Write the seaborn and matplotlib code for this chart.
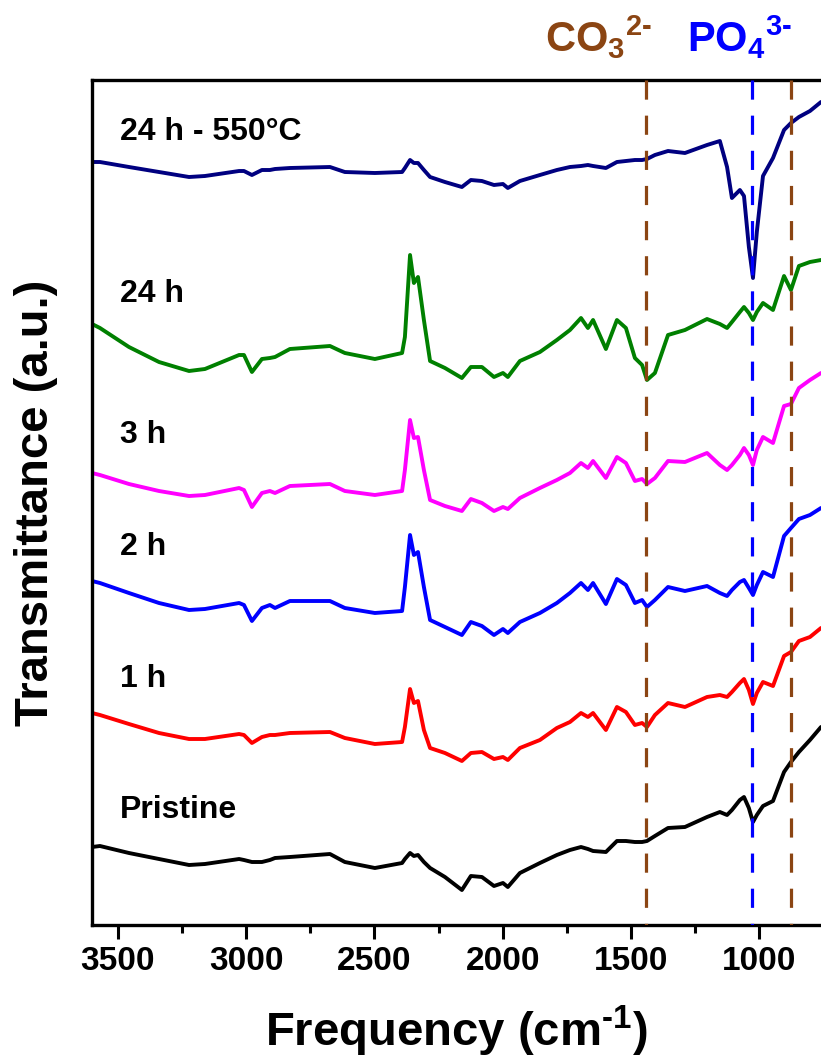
import numpy as np
import pandas as pd
import matplotlib
matplotlib.use("Agg")
import matplotlib.pyplot as plt
import seaborn as sns
from matplotlib.ticker import MultipleLocator

# ---------------- data ----------------
wavenumber = [3600, 3569, 3456, 3339, 3222, 3160, 3027, 3008, 2977, 2938,
              2907, 2887, 2829, 2673, 2615, 2498, 2392, 2381, 2361, 2346,
              2330, 2307, 2283, 2225, 2159, 2124, 2081, 2034, 1999, 1980,
              1933, 1855, 1789, 1738, 1695, 1668, 1648, 1598, 1555, 1520,
              1485, 1457, 1438, 1407, 1356, 1290, 1204, 1154, 1126, 1107,
              1076, 1060, 1041, 1025, 1010, 986, 947, 904, 877, 846, 803, 760]

t_24h_550 = [763, 763, 758, 753, 748, 749, 754, 754, 750, 755,
             755, 756, 757, 758, 753, 752, 753, 757, 765, 762,
             762, 755, 748, 743, 738, 745, 744, 740, 741, 737,
             744, 750, 755, 758, 759, 760, 759, 757, 763, 764,
             765, 765, 766, 770, 774, 772, 780, 784, 758, 727,
             735, 729, 678, 647, 693, 749, 767, 795, 802, 808, 814, 823]

t_24h = [601, 597, 578, 563, 554, 556, 570, 570, 553, 566,
         567, 568, 576, 579, 572, 566, 572, 588, 670, 642,
         648, 605, 564, 557, 547, 558, 558, 548, 552, 548,
         564, 573, 585, 595, 607, 597, 605, 576, 605, 597,
         567, 560, 545, 552, 590, 595, 606, 601, 597, 603,
         613, 618, 612, 605, 613, 622, 615, 649, 635, 659, 663, 665]

t_3h = [452, 450, 441, 434, 429, 430, 437, 435, 418, 432,
        434, 432, 439, 441, 434, 430, 434, 455, 505, 487,
        488, 455, 425, 419, 414, 426, 422, 414, 418, 416,
        427, 437, 445, 452, 462, 457, 464, 447, 468, 462,
        444, 446, 441, 447, 464, 463, 472, 460, 455, 460,
        470, 477, 470, 460, 475, 488, 482, 519, 521, 537, 545, 552]

t_2h = [344, 342, 332, 322, 315, 316, 322, 320, 304, 317,
        320, 317, 324, 324, 317, 312, 314, 338, 390, 370,
        373, 338, 305, 298, 290, 303, 299, 290, 296, 292,
        303, 312, 322, 332, 342, 335, 342, 321, 346, 340,
        322, 325, 318, 325, 338, 334, 339, 332, 329, 335,
        343, 345, 337, 330, 340, 353, 348, 389, 397, 406, 410, 417]

t_1h = [212, 210, 201, 192, 186, 186, 191, 190, 182, 188,
        190, 190, 192, 193, 187, 181, 183, 198, 236, 222,
        224, 195, 177, 172, 164, 172, 173, 166, 168, 165,
        177, 185, 197, 203, 212, 208, 212, 195, 218, 213,
        200, 202, 198, 210, 222, 218, 228, 230, 228, 233,
        242, 246, 235, 221, 232, 243, 239, 269, 273, 284, 288, 297]

t_pristine = [78, 79, 72, 66, 60, 61, 66, 65, 63, 63,
              65, 67, 68, 71, 63, 57, 62, 66, 72, 69,
              70, 63, 57, 48, 35, 49, 48, 39, 42, 38,
              52, 62, 70, 75, 78, 76, 74, 73, 84, 84,
              83, 83, 84, 89, 97, 98, 108, 113, 110, 115,
              125, 128, 117, 103, 110, 119, 124, 153, 163, 173, 185, 198]

sample_names = ["Pristine", "1 h", "2 h", "3 h", "24 h", "24 h - 550°C"]
sample_colors = ["#000000", "#FF0000", "#0000FF", "#FF00FF", "#008000", "#000080"]
label_y = [107, 238, 370, 482, 623, 785]          # baseline of curve labels (a.u.)
label_x = 3491

carbonate_bands = [1440, 875]
phosphate_bands = [1030]

# ---------------- style ----------------
sns.set_style("ticks")
plt.rcParams['font.family'] = ['Liberation Sans', 'DejaVu Sans']
plt.rcParams['font.weight'] = 'bold'
plt.rcParams['mathtext.fontset'] = 'custom'
plt.rcParams['mathtext.rm'] = 'Liberation Sans'
plt.rcParams['mathtext.it'] = 'Liberation Sans:italic'
plt.rcParams['mathtext.bf'] = 'Liberation Sans:bold'
for k in ['text.color', 'axes.labelcolor', 'xtick.color', 'ytick.color', 'axes.edgecolor']:
    plt.rcParams[k] = 'black'

series = [t_pristine, t_1h, t_2h, t_3h, t_24h, t_24h_550]
df = pd.DataFrame({
    "Frequency": np.tile(wavenumber, len(series)),
    "Transmittance": np.concatenate(series),
    "sample": np.repeat(sample_names, len(wavenumber)),
})

W, H = 821, 1063
fig = plt.figure(figsize=(W / 100, H / 100), dpi=100)
ax = fig.add_axes([92 / W, 1 - 925 / H, 1 - 92 / W, (925 - 80) / H])

sns.lineplot(data=df, x="Frequency", y="Transmittance", hue="sample",
             hue_order=sample_names, palette=dict(zip(sample_names, sample_colors)),
             sort=False, estimator=None, lw=2.8, legend=False, ax=ax)
for ln in ax.lines:
    ln.set_solid_joinstyle("round")
    ln.set_solid_capstyle("round")

for v in carbonate_bands:
    ax.axvline(v, ymin=1, ymax=0, color="#8B4513", lw=2.3, ls=(0, (6, 5)), zorder=4)
for v in phosphate_bands:
    ax.axvline(v, ymin=1, ymax=0, color="#0000FF", lw=2.3, ls=(0, (6, 5)), zorder=4)

for name, y in zip(sample_names, label_y):
    ax.text(label_x, y, name, fontsize=23, fontweight="bold", ha="left",
            va="baseline", color="black")

ax.set_xlim(3600, 760)
ax.set_ylim(0, 845)
ax.xaxis.set_major_locator(MultipleLocator(500))
ax.xaxis.set_minor_locator(MultipleLocator(250))
ax.set_yticks([])
ax.tick_params(axis="x", which="major", direction="out", length=10, width=2.2,
               labelsize=24, pad=5, colors="black")
ax.tick_params(axis="x", which="minor", direction="out", length=6, width=2.2,
               colors="black")
for s in ["left", "bottom", "top"]:
    ax.spines[s].set_linewidth(2.4)
    ax.spines[s].set_color("black")
ax.spines["right"].set_visible(False)

ax.set_xlabel("Frequency (cm$^{\u20101}$)", fontsize=34, fontweight="bold", color="black")
ax.set_ylabel("Transmittance (a.u.)", fontsize=34, fontweight="bold", color="black")
ax.xaxis.set_label_coords(0.5, -0.093)
ax.yaxis.set_label_coords(-0.047, 0.5)

fig.text(652 / W, 1 - 52 / H, "CO$_{3}$$^{2\u2010}$", color="#8B4513", fontsize=30,
         fontweight="bold", ha="right", va="baseline")
fig.text(687 / W, 1 - 52 / H, "PO$_{4}$$^{3\u2010}$", color="#0000FF", fontsize=30,
         fontweight="bold", ha="left", va="baseline")

fig.savefig("out.png", dpi=100)
